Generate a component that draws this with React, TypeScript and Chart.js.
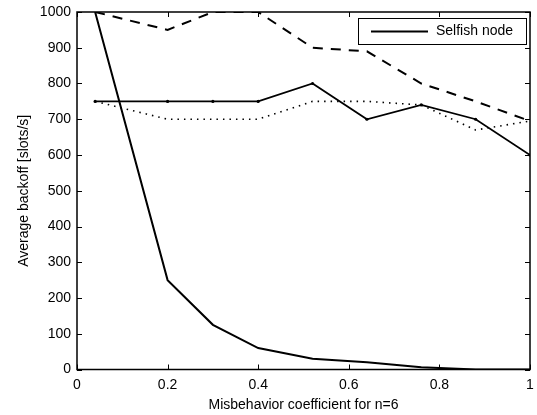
import React, { useEffect, useRef } from "react";
import { Chart, registerables } from "chart.js";

Chart.register(...registerables);

const xValues = [0.04, 0.2, 0.3, 0.4, 0.52, 0.64, 0.76, 0.88, 1.0];
const selfishNode = [750, 750, 750, 750, 800, 700, 740, 700, 600];
const steepSeries = [1000, 250, 125, 60, 30, 20, 6, 0, 0];
const dashedSeries = [1000, 950, 1000, 1000, 900, 890, 800, 750, 695];
const dottedSeries = [750, 700, 700, 700, 750, 750, 740, 670, 695];
const xTicks = [0, 0.2, 0.4, 0.6, 0.8, 1];
const yTicks = [0, 100, 200, 300, 400, 500, 600, 700, 800, 900, 1000];

const FONT = "'Liberation Sans', Arial, Helvetica, sans-serif";
const FS = 14;

const toPts = (ys: number[]) => ys.map((y, i) => ({ x: xValues[i], y }));

const frameAndLegend = {
  id: "frameAndLegend",
  afterDraw(chart: any) {
    const { ctx, chartArea: a, scales } = chart;
    const xs = scales.x;
    const ys = scales.y;
    const tl = 5;
    ctx.save();
    ctx.strokeStyle = "#000";
    ctx.lineWidth = 1;
    ctx.beginPath();
    for (const v of xTicks) {
      const px = Math.round(xs.getPixelForValue(v)) + 0.5;
      ctx.moveTo(px, a.bottom);
      ctx.lineTo(px, a.bottom - tl);
      ctx.moveTo(px, a.top);
      ctx.lineTo(px, a.top + tl);
    }
    for (const v of yTicks) {
      const py = Math.round(ys.getPixelForValue(v)) + 0.5;
      ctx.moveTo(a.left, py);
      ctx.lineTo(a.left + tl, py);
      ctx.moveTo(a.right, py);
      ctx.lineTo(a.right - tl, py);
    }
    ctx.stroke();
    ctx.lineWidth = 1.5;
    ctx.strokeRect(a.left, a.top, a.right - a.left, a.bottom - a.top);

    // legend
    const ds = chart.data.datasets[0];
    const bx = a.right - 172;
    const by = a.top + 6;
    const bw = 168;
    const bh = 26;
    ctx.fillStyle = "#fff";
    ctx.fillRect(bx, by, bw, bh);
    ctx.lineWidth = 1;
    ctx.strokeStyle = "#000";
    ctx.strokeRect(bx + 0.5, by + 0.5, bw, bh);
    const ly = by + bh / 2 + 0.5;
    ctx.beginPath();
    ctx.lineWidth = ds.borderWidth;
    ctx.moveTo(bx + 13, ly);
    ctx.lineTo(bx + 70, ly);
    ctx.stroke();
    ctx.fillStyle = "#000";
    ctx.font = `${FS}px ${FONT}`;
    ctx.textBaseline = "middle";
    ctx.textAlign = "left";
    ctx.fillText(ds.label, bx + 78, ly);
    ctx.restore();
  },
};

export default function App() {
  const ref = useRef<HTMLCanvasElement>(null);
  useEffect(() => {
    if (!ref.current) return;
    const chart = new Chart(ref.current, {
      type: "line",
      data: {
        datasets: [
          {
            label: "Selfish node",
            data: toPts(selfishNode),
            borderColor: "#000",
            backgroundColor: "#000",
            borderWidth: 1.8,
            pointRadius: 1.6,
            pointBorderWidth: 0,
            tension: 0,
          },
          {
            label: "s2",
            data: toPts(steepSeries),
            borderColor: "#000",
            borderWidth: 2,
            pointRadius: 0,
            tension: 0,
          },
          {
            label: "s3",
            data: toPts(dashedSeries),
            borderColor: "#000",
            borderWidth: 2,
            borderDash: [10, 8],
            pointRadius: 0,
            tension: 0,
          },
          {
            label: "s4",
            data: toPts(dottedSeries),
            borderColor: "#000",
            borderWidth: 1.6,
            borderDash: [1.5, 5],
            pointRadius: 0,
            tension: 0,
          },
        ],
      },
      options: {
        responsive: false,
        animation: false,
        layout: { padding: { top: 12, right: 7, left: 0, bottom: 0 } },
        plugins: { legend: { display: false }, tooltip: { enabled: false } },
        scales: {
          x: {
            type: "linear",
            min: 0,
            max: 1,
            grid: { display: false, drawTicks: false },
            border: { display: false },
            afterBuildTicks: (s: any) => {
              s.ticks = xTicks.map((v) => ({ value: v }));
            },
            afterFit: (s: any) => {
              s.height = 45.5;
              s.paddingLeft = 0;
              s.paddingRight = 0;
              s.paddingTop = 0;
              s.paddingBottom = 0;
            },
            ticks: {
              color: "#000",
              padding: 7,
              font: { family: FONT, size: FS },
              callback: (v: any) => String(v),
              maxRotation: 0,
            },
            title: {
              display: true,
              text: "Misbehavior coefficient for n=6",
              color: "#000",
              font: { family: FONT, size: FS },
              padding: { top: 0, bottom: 1 },
            },
          },
          y: {
            min: 0,
            max: 1000,
            grid: { display: false, drawTicks: false },
            border: { display: false },
            afterBuildTicks: (s: any) => {
              s.ticks = yTicks.map((v) => ({ value: v }));
            },
            afterFit: (s: any) => {
              s.width = 77;
              s.paddingLeft = 0;
              s.paddingRight = 0;
              s.paddingTop = 0;
              s.paddingBottom = 0;
            },
            ticks: {
              color: "#000",
              padding: 6,
              font: { family: FONT, size: FS },
              callback: (v: any) => String(v),
            },
            title: {
              display: true,
              text: "Average backoff [slots/s]",
              color: "#000",
              font: { family: FONT, size: FS },
              padding: { top: 16, bottom: 0 },
            },
          },
        },
      },
      plugins: [frameAndLegend],
    });
    return () => chart.destroy();
  }, []);
  return (
    <div style={{ position: "fixed", left: 0, top: 0, width: 537, height: 415, background: "#fff" }}>
      <canvas ref={ref} width={537} height={415} />
    </div>
  );
}
